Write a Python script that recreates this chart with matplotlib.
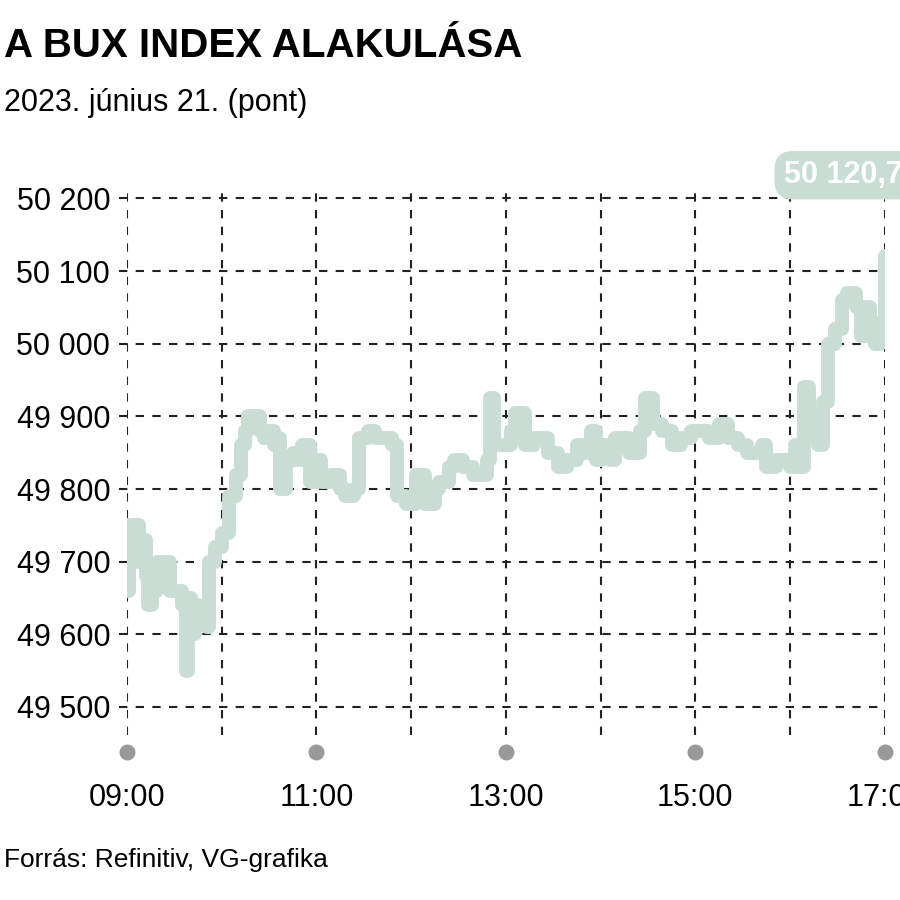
import matplotlib.pyplot as plt

# BUX index, 2023-06-21
hours = [9.00, 9.02, 9.10, 9.13, 9.15, 9.20, 9.22, 9.27, 9.32, 9.40, 9.45, 9.55, 9.58, 9.62, 9.64,
         9.68, 9.72, 9.75, 9.80, 9.85, 9.87, 9.93, 10.00, 10.05, 10.08, 10.15, 10.20, 10.25, 10.28,
         10.35, 10.40, 10.45, 10.50, 10.55, 10.60, 10.62, 10.68, 10.75, 10.80, 10.85, 10.90, 10.93,
         11.00, 11.05, 11.15, 11.25, 11.30, 11.40, 11.45, 11.55, 11.62, 11.70, 11.80, 11.85, 11.95,
         12.00, 12.05, 12.15, 12.25, 12.30, 12.40, 12.45, 12.55, 12.65, 12.75, 12.80, 12.83, 12.88,
         12.95, 13.05, 13.10, 13.20, 13.30, 13.40, 13.45, 13.55, 13.65, 13.75, 13.82, 13.90, 13.95,
         14.00, 14.10, 14.15, 14.30, 14.42, 14.47, 14.55, 14.65, 14.75, 14.85, 14.95, 15.05, 15.15,
         15.25, 15.35, 15.45, 15.55, 15.65, 15.70, 15.75, 15.85, 16.00, 16.05, 16.10, 16.15, 16.20,
         16.30, 16.35, 16.40, 16.48, 16.55, 16.60, 16.70, 16.75, 16.80, 16.85, 16.90, 16.95, 16.98,
         17.00]
values = [49660, 49750, 49750, 49700, 49730, 49680, 49640, 49660, 49700, 49700, 49660, 49660, 49640,
          49550, 49650, 49600, 49640, 49630, 49620, 49610, 49700, 49720, 49740, 49740, 49790, 49820,
          49860, 49880, 49900, 49900, 49880, 49870, 49880, 49860, 49870, 49800, 49840, 49850, 49840,
          49860, 49860, 49810, 49840, 49810, 49820, 49800, 49790, 49800, 49870, 49880, 49870, 49870,
          49860, 49790, 49780, 49780, 49820, 49780, 49800, 49810, 49830, 49840, 49830, 49820, 49820,
          49840, 49925, 49860, 49860, 49880, 49905, 49860, 49870, 49870, 49850, 49830, 49840, 49860,
          49850, 49880, 49840, 49860, 49840, 49870, 49850, 49880, 49925, 49890, 49880, 49860, 49870,
          49880, 49880, 49870, 49890, 49870, 49860, 49850, 49850, 49860, 49830, 49840, 49830, 49860,
          49830, 49940, 49880, 49860, 49920, 50000, 50020, 50060, 50070, 50050, 50010, 50050, 50030,
          50000, 50020, 50030, 50120.79]

yticks = [49500, 49600, 49700, 49800, 49900, 50000, 50100, 50200]
ytick_labels = ["49 500", "49 600", "49 700", "49 800", "49 900", "50 000", "50 100", "50 200"]
xlabel_hours = [9, 11, 13, 15, 17]
xtick_labels = ["09:00", "11:00", "13:00", "15:00", "17:00"]
last_label = "50 120,79"

plt.rcParams["font.family"] = ["Liberation Sans", "DejaVu Sans"]

green = "#c9ddd5"

fig = plt.figure(figsize=(9, 9), dpi=100)
ax = fig.add_axes([0.141, 0.183, 0.842, 0.611])
ax.plot(hours, values, color=green, lw=10, drawstyle="steps-post",
        solid_joinstyle="round", solid_capstyle="round", zorder=3)
ax.set_xlim(9, 17)
ax.set_ylim(49461, 50218)

for h in range(9, 18):
    ax.axvline(h, color="#222222", lw=1.5, ls=(0, (4, 4)), zorder=1)
for v in yticks:
    ax.axhline(v, color="#222222", lw=1.5, ls=(0, (4, 4)), zorder=1, xmin=-0.01, clip_on=False)

ax.set_yticks(yticks)
ax.set_yticklabels(ytick_labels, fontsize=22)
ax.set_xticks([])
ax.tick_params(axis="y", length=0, pad=12)
for s in ax.spines.values():
    s.set_visible(False)

ax.scatter(xlabel_hours, [49438] * 5, s=110, color="#999999", clip_on=False, zorder=4)
for h, lab in zip(xlabel_hours, xtick_labels):
    ax.text(h, 49375, lab, ha="center", va="center", fontsize=22)

ax.text(16.65, 50232, last_label, ha="center", va="center", fontsize=22, weight="bold",
        color="white", zorder=5, clip_on=False,
        bbox=dict(boxstyle="round,pad=0.3,rounding_size=0.6", fc=green, ec="none"))

fig.text(0.005, 0.97, "A BUX INDEX ALAKULÁSA", fontsize=29, weight="bold", va="top")
fig.text(0.005, 0.885, "2023. június 21. (pont)", fontsize=22, va="center")
fig.text(0.005, 0.045, "Forrás: Refinitiv, VG-grafika", fontsize=19, va="center")

fig.savefig("out.png", dpi=100)
